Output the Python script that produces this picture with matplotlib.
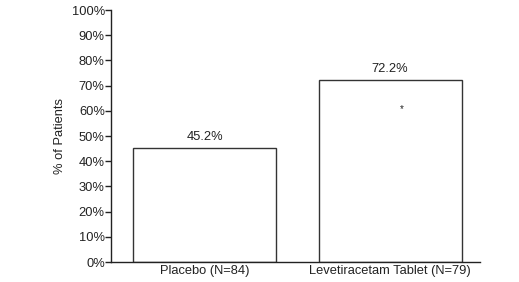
import matplotlib
matplotlib.use('Agg')
import matplotlib.pyplot as plt
import numpy as np

groups = ['Placebo (N=84)', 'Levetiracetam Tablet (N=79)']
pct = [45.2, 72.2]
bar_labels = ['45.2%', '72.2%']
yticks = [0, 10, 20, 30, 40, 50, 60, 70, 80, 90, 100]

plt.rcParams['font.family'] = ['Liberation Sans', 'DejaVu Sans']
ink = '#222222'
fs = 9.3

fig = plt.figure(figsize=(5.19, 2.82), dpi=100)
ax = fig.add_axes([0.2139, 0.0709, 0.711, 0.8936])

x = np.arange(len(groups))
ax.bar(x, pct, width=0.771, color='white', edgecolor='#333333', linewidth=1.0)
for xi, v, lab in zip(x, pct, bar_labels):
    ax.text(xi, v + 2.2, lab, ha='center', va='bottom', fontsize=fs, color=ink)
# significance mark
ax.text(1.065, 60.5, '*', ha='center', va='center', fontsize=7, color=ink)

ax.set_xlim(-0.504, 1.485)
ax.set_ylim(0, 100)
ax.set_yticks(yticks)
ax.set_yticklabels([f'{t}%' for t in yticks], fontsize=fs, color=ink)
ax.set_xticks(x)
ax.set_xticklabels(groups, fontsize=fs, color=ink)
ax.tick_params(axis='x', length=0, pad=2.5)
ax.tick_params(axis='y', length=4, width=1, color=ink, pad=0.5)
ax.set_ylabel('% of Patients', fontsize=fs, color=ink, labelpad=4)

for s in ['top', 'right']:
    ax.spines[s].set_visible(False)
for s in ['left', 'bottom']:
    ax.spines[s].set_color(ink)
    ax.spines[s].set_linewidth(1)

fig.savefig('out.png', dpi=100)
